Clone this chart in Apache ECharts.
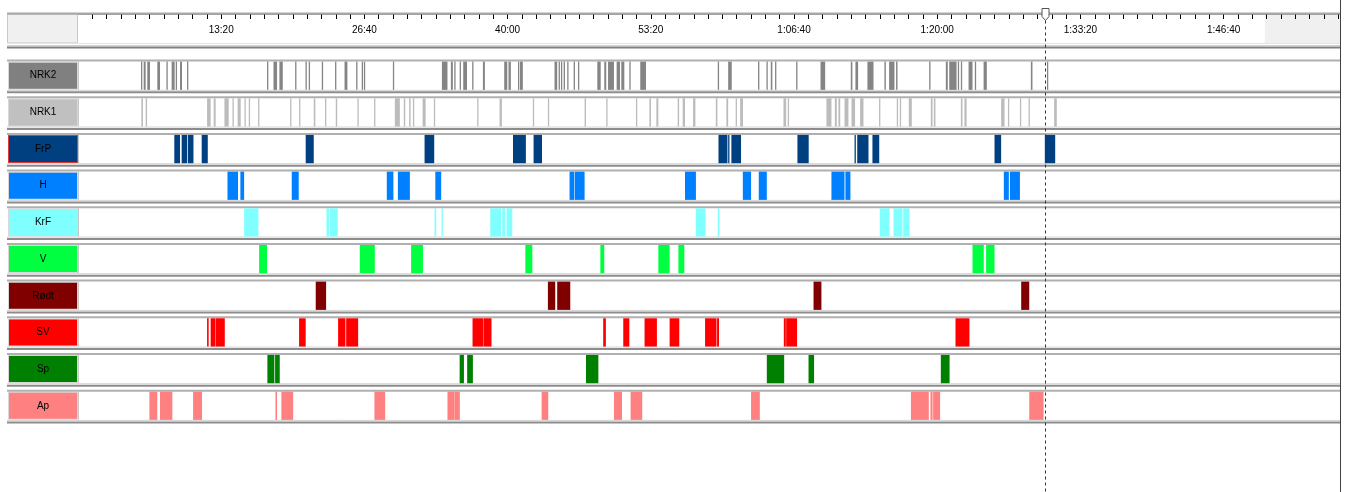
<!DOCTYPE html>
<html><head><meta charset="utf-8">
<script src="https://cdn.jsdelivr.net/npm/echarts@6/dist/echarts.min.js"></script>
<style>html,body{margin:0;padding:0;background:#fff;overflow:hidden}#c{width:1349px;height:492px}</style>
</head><body><div id="c"></div>
<script>
// ---------- data (seconds from programme start) ----------
const rows = ['NRK2','NRK1','FrP','H','KrF','V','Rødt','SV','Sp','Ap'];
const labelColors = ['#808080','#c0c0c0','#004080','#0080ff','#80ffff','#00ff40','#800000','#ff0000','#008000','#ff8080'];
const barColors   = ['#858585','#bcbcbc','#004080','#0080ff','#80ffff','#00ff40','#800000','#ff0000','#008000','#ff8080'];

const timeMin = 0, timeMax = 7050;
const tickStep = 80, labelStep = 800;
const cursorTime = 5400;
const headerShade = [6630, 7050];

const nrk2 = [[352,358],[367,378],[387,402],[443,458],[494,497],[523,540],[546,551],[570,581],[609,615],[1056,1062],[1092,1112],[1125,1144],[1213,1218],[1271,1276],[1289,1295],[1362,1369],[1436,1442],[1489,1505],[1554,1559],[1585,1591],[1597,1604],[1759,1766],[2033,2064],[2083,2094],[2102,2109],[2132,2139],[2152,2173],[2202,2208],[2262,2273],[2381,2398],[2405,2418],[2458,2463],[2469,2485],[2662,2677],[2685,2692],[2698,2704],[2713,2718],[2733,2739],[2769,2776],[2793,2799],[2901,2920],[2940,2951],[2961,2994],[3009,3028],[3035,3052],[3080,3087],[3141,3173],[3574,3581],[3632,3652],[3799,3805],[3846,3853],[3870,3879],[3894,3900],[4012,4017],[4148,4174],[4317,4326],[4343,4358],[4410,4444],[4505,4513],[4531,4561],[4570,4578],[4755,4762],[4848,4859],[4867,4908],[4915,4921],[4932,4939],[4975,4997],[5010,5016],[5059,5077],[5323,5332],[5413,5418]];
const nrk1 = [[354,363],[378,386],[721,741],[758,769],[818,842],[863,870],[892,909],[930,935],[954,959],[1006,1012],[1185,1192],[1235,1241],[1317,1326],[1380,1386],[1440,1448],[1561,1567],[1654,1660],[1770,1798],[1820,1828],[1850,1858],[1871,1876],[1925,1942],[1988,1994],[2230,2236],[2355,2368],[2541,2547],[2625,2631],[2830,2838],[2951,2957],[3117,3123],[3192,3201],[3231,3242],[3350,3358],[3378,3391],[3436,3449],[3563,3572],[3622,3632],[3674,3680],[3699,3715],[3941,3956],[3965,3971],[4181,4209],[4228,4239],[4248,4258],[4282,4304],[4321,4341],[4369,4388],[4475,4481],[4574,4580],[4591,4597],[4641,4658],[4764,4774],[4781,4790],[4932,4941],[4952,4964],[5157,5176],[5195,5202],[5262,5269],[5310,5316],[5453,5468]];
const frp = [[538,570],[579,609],[613,645],[691,725],[1272,1317],[1936,1990],[2430,2502],[2545,2592],[3578,3628],[3632,3637],[3650,3704],[4019,4082],[4338,4345],[4353,4416],[4438,4476],[5120,5157],[5401,5459]];
const h = [[835,894],[907,928],[1194,1233],[1725,1762],[1787,1854],[1996,2029],[2746,2771],[2774,2830],[3391,3452],[3714,3760],[3803,3848],[4209,4282],[4287,4315],[5172,5200],[5206,5262]];
const krf = [[928,1008],[1388,1403],[1407,1451],[1992,2001],[2031,2038],[2303,2363],[2370,2387],[2394,2426],[3451,3505],[3574,3583],[4479,4533],[4556,4606],[4610,4645]];
const v = [[1012,1056],[1574,1658],[1861,1927],[2499,2538],[2918,2940],[3242,3305],[3354,3387],[4997,5060],[5073,5120]];
const rodt = [[1328,1386],[2625,2666],[2677,2750],[4109,4153],[5269,5314]];
const sv = [[721,730],[741,766],[768,820],[1235,1272],[1453,1494],[1498,1565],[2204,2266],[2268,2310],[2934,2949],[3046,3080],[3165,3234],[3305,3359],[3503,3567],[3570,3581],[3943,3954],[3956,4017],[4902,4980]];
const sp = [[1058,1097],[1101,1127],[2132,2156],[2174,2206],[2838,2907],[3848,3945],[4081,4112],[4820,4869]];
const ap = [[399,443],[458,527],[643,693],[1103,1112],[1136,1202],[1656,1716],[2064,2104],[2105,2133],[2590,2627],[2994,3039],[3087,3152],[3760,3809],[4653,4753],[4762,4774],[4777,4816],[5314,5394]];

const rowData = [nrk2, nrk1, frp, h, krf, v, rodt, sv, sp, ap];

// ---------- chart ----------
const FONT = "'Liberation Sans Narrow','Arial Narrow','Liberation Sans',Arial,sans-serif";
const pad = n => (n < 10 ? '0' : '') + n;
function fmtTime(val) {
  if (val === 0 || val % labelStep !== 0) return '';
  const hh = Math.floor(val / 3600), mm = Math.floor((val % 3600) / 60), ss = val % 60;
  return hh > 0 ? hh + ':' + pad(mm) + ':' + pad(ss) : mm + ':' + pad(ss);
}

const chart = echarts.init(document.getElementById('c'), null, {renderer: 'canvas'});

function barRender(color) {
  return function (params, api) {
    const r = api.value(2);
    const a = api.coord([api.value(0), r]);
    const b = api.coord([api.value(1), r]);
    const band = api.size([0, 1])[1];
    const hh = band - 8.4;
    const w = Math.max(b[0] - a[0], 1.3);
    return {type: 'rect', shape: {x: a[0], y: a[1] - hh / 2, width: w, height: hh}, style: {fill: color}};
  };
}

function frameRender(params, api) {
  const r = api.value(1);
  const c = api.coord([0, r]);
  const band = api.size([0, 1])[1];
  const hh = band - 8.4;
  const top = c[1] - hh / 2, bot = c[1] + hh / 2;
  const cs = params.coordSys;
  const L = 7, R = cs.x + cs.width;
  return {type: 'group', children: [
    {type: 'line', shape: {x1: L, y1: top - 1, x2: R, y2: top - 1}, style: {stroke: '#b0b0b0', lineWidth: 2}},
    {type: 'line', shape: {x1: L, y1: bot + 0.5, x2: R, y2: bot + 0.5}, style: {stroke: '#d4d4d4', lineWidth: 1}},
    {type: 'line', shape: {x1: L, y1: bot + 2.5, x2: R, y2: bot + 2.5}, style: {stroke: '#8c8c8c', lineWidth: 2}},
    {type: 'line', shape: {x1: cs.x + 0.5, y1: top, x2: cs.x + 0.5, y2: bot}, style: {stroke: '#c8c8c8', lineWidth: 1}}
  ]};
}

function shadeRender(params, api) {
  const a = api.coord([api.value(0), 0]);
  const b = api.coord([api.value(1), 0]);
  const cs = params.coordSys;
  return {type: 'rect', shape: {x: a[0], y: cs.y + 1, width: b[0] - a[0], height: cs.height - 1}, style: {fill: '#f0f0f0'}};
}

function cursorRender(params, api) {
  const p = api.coord([api.value(0), 0]);
  const x = Math.round(p[0]) + 0.5;
  const cs = params.coordSys;
  const y0 = cs.y + 0.5;
  return {type: 'group', children: [
    {type: 'line', shape: {x1: x, y1: y0 + 12, x2: x, y2: cs.y + cs.height}, style: {stroke: '#333', lineWidth: 1, lineDash: [3, 3]}},
    {type: 'polygon', shape: {points: [[x - 3.5, y0], [x + 3.5, y0], [x + 3.5, y0 + 8], [x, y0 + 12], [x - 3.5, y0 + 8]]}, style: {fill: '#fff', stroke: '#555', lineWidth: 1}}
  ]};
}

const rich = {};
rows.forEach((r, i) => {
  rich['r' + i] = {
    backgroundColor: labelColors[i], width: 68, height: 26, lineHeight: 26, align: 'center',
    borderColor: i === 2 ? '#e03a3a' : '#d8d8d8', borderWidth: 1,
    color: '#000', fontSize: 10, fontFamily: FONT
  };
});

const series = [
  {type: 'custom', xAxisIndex: 0, yAxisIndex: 0, data: [headerShade], encode: {x: [0, 1]}, renderItem: shadeRender, z: -1, silent: true},
  {type: 'custom', xAxisIndex: 1, yAxisIndex: 1, data: rows.map((_, i) => [0, i]), encode: {x: 0, y: 1}, renderItem: frameRender, clip: false, z: 1, silent: true}
];
rowData.forEach((arr, i) => {
  series.push({
    type: 'custom', name: rows[i], xAxisIndex: 1, yAxisIndex: 1,
    data: arr.map(d => [d[0], d[1], i]), encode: {x: [0, 1], y: 2},
    renderItem: barRender(barColors[i]), z: 3
  });
});
series.push({type: 'custom', xAxisIndex: 2, yAxisIndex: 2, data: [[cursorTime]], encode: {x: 0}, renderItem: cursorRender, clip: false, z: 10, silent: true});

chart.setOption({
  animation: false,
  backgroundColor: '#fff',
  grid: [
    {left: 78, right: 9, top: 14, height: 29},
    {left: 78, right: 9, top: 57.4, height: 366.7},
    {left: 78, right: 9, top: 8, bottom: 0}
  ],
  xAxis: [
    {gridIndex: 0, type: 'value', position: 'top', min: timeMin, max: timeMax, interval: tickStep,
     axisLine: {show: true, onZero: false, lineStyle: {color: '#a0a0a0', width: 2}},
     axisTick: {show: true, inside: true, length: 5, lineStyle: {color: '#000', width: 1}},
     axisLabel: {inside: true, margin: 11, formatter: fmtTime, fontSize: 10, color: '#000', fontFamily: FONT, showMinLabel: false, showMaxLabel: false},
     splitLine: {show: false}},
    {gridIndex: 1, type: 'value', min: timeMin, max: timeMax, show: false},
    {gridIndex: 2, type: 'value', min: timeMin, max: timeMax, show: false}
  ],
  yAxis: [
    {gridIndex: 0, type: 'value', min: 0, max: 1, show: false},
    {gridIndex: 1, type: 'category', data: rows, inverse: true,
     axisLine: {show: false}, axisTick: {show: false}, splitLine: {show: false},
     axisLabel: {margin: 1, formatter: (val, i) => '{r' + i + '|' + val + '}', rich: rich}},
    {gridIndex: 2, type: 'value', min: 0, max: 1, show: false}
  ],
  graphic: [
    {type: 'rect', shape: {x: 7.5, y: 14.5, width: 70, height: 28.5}, style: {fill: '#f0f0f0', stroke: '#c8c8c8', lineWidth: 1}, z: 5},
    {type: 'line', shape: {x1: 7, y1: 13.5, x2: 1340, y2: 13.5}, style: {stroke: '#a8a8a8', lineWidth: 2}, z: 6},
    {type: 'line', shape: {x1: 78, y1: 43.5, x2: 1340, y2: 43.5}, style: {stroke: '#e4e4e4', lineWidth: 1}, z: 5},
    {type: 'line', shape: {x1: 7, y1: 45.5, x2: 1340, y2: 45.5}, style: {stroke: '#d0d0d0', lineWidth: 1}, z: 5},
    {type: 'line', shape: {x1: 7, y1: 47.5, x2: 1340, y2: 47.5}, style: {stroke: '#808080', lineWidth: 2}, z: 5},
    {type: 'line', shape: {x1: 1340.5, y1: 0, x2: 1340.5, y2: 492}, style: {stroke: '#404040', lineWidth: 1}, z: 20}
  ],
  series: series
});
</script>
</body></html>
